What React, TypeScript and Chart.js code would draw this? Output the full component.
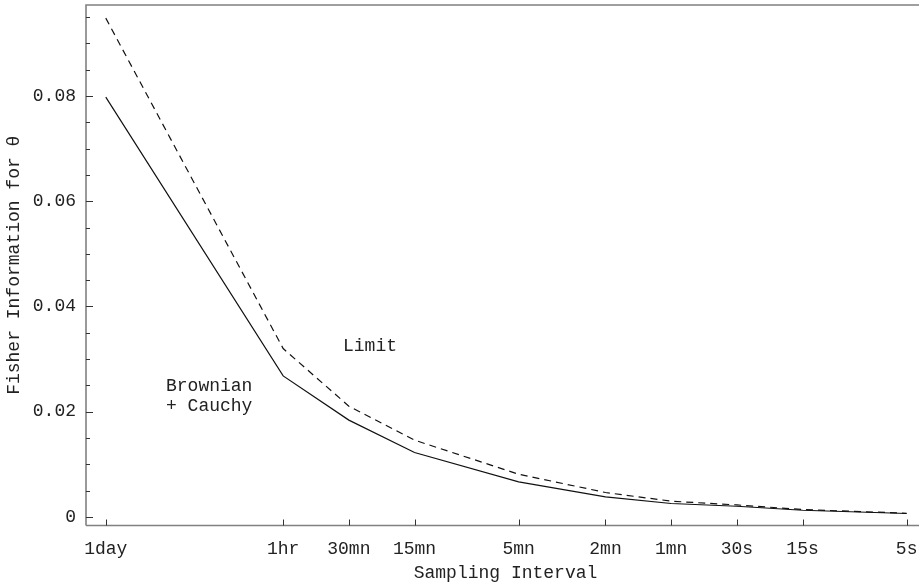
import React, { useEffect, useRef } from "react";
import { Chart, registerables } from "chart.js";

Chart.register(...registerables);

// Sampling interval in seconds (1 trading day = 6.5 hours)
const intervalSeconds = [23400, 3600, 1800, 900, 300, 120, 60, 30, 15, 5];
const intervalLabels = ["1day", "1hr", "30mn", "15mn", "5mn", "2mn", "1mn", "30s", "15s", "5s"];

const brownianCauchy = [0.0798, 0.0268, 0.0184, 0.01225, 0.00666, 0.0038, 0.00255, 0.00203, 0.00127, 0.00065];
const limitValues = [0.0948, 0.032, 0.02105, 0.01459, 0.00812, 0.00464, 0.00299, 0.00228, 0.00141, 0.0007];

const yMajorTicks = [0, 0.02, 0.04, 0.06, 0.08];
const yMajorLabels = ["0", "0.02", "0.04", "0.06", "0.08"];
const yMinorStep = 0.005;

const FONT = '18px "Liberation Mono", "Courier New", monospace';
const TEXT_COLOR = "#222";
const AXIS_COLOR = "#808080";

const axesPlugin = {
  id: "customAxes",
  afterDraw(chart: any) {
    const { ctx, chartArea } = chart;
    const xs = chart.scales.x;
    const ys = chart.scales.y;
    const { left, right, top, bottom } = chartArea;
    ctx.save();

    // frame lines
    ctx.strokeStyle = AXIS_COLOR;
    ctx.lineWidth = 1.6;
    ctx.beginPath();
    ctx.moveTo(left, bottom);
    ctx.lineTo(left, top);
    ctx.lineTo(right, top);
    ctx.moveTo(left, bottom);
    ctx.lineTo(right, bottom);
    ctx.stroke();

    // y ticks (inward)
    ctx.strokeStyle = "#333";
    ctx.lineWidth = 1;
    ctx.beginPath();
    for (let v = 0; v <= ys.max + 1e-9; v += yMinorStep) {
      const y = Math.round(ys.getPixelForValue(v)) + 0.5;
      const isMajor = Math.abs(v / 0.02 - Math.round(v / 0.02)) < 1e-6;
      ctx.moveTo(left, y);
      ctx.lineTo(left + (isMajor ? 7 : 4), y);
    }
    // x ticks (inward)
    intervalSeconds.forEach((s) => {
      const x = Math.round(xs.getPixelForValue(s)) + 0.5;
      ctx.moveTo(x, bottom);
      ctx.lineTo(x, bottom - 6);
    });
    ctx.stroke();

    // labels
    ctx.fillStyle = TEXT_COLOR;
    ctx.font = FONT;
    ctx.textAlign = "right";
    ctx.textBaseline = "middle";
    yMajorTicks.forEach((v, i) => {
      ctx.fillText(yMajorLabels[i], left - 10, ys.getPixelForValue(v));
    });
    ctx.textAlign = "center";
    intervalSeconds.forEach((s, i) => {
      ctx.fillText(intervalLabels[i], xs.getPixelForValue(s), 549);
    });

    // axis titles
    ctx.fillText("Sampling Interval", (left + right) / 2 + 3, 573);
    ctx.save();
    ctx.translate(14, (top + bottom) / 2);
    ctx.rotate(-Math.PI / 2);
    ctx.fillText("Fisher Information for \u03B8", 0, 0);
    ctx.restore();

    // annotations
    ctx.textAlign = "left";
    ctx.fillText("Limit", 343, 346);
    ctx.fillText("Brownian", 166, 386);
    ctx.fillText("+ Cauchy", 166, 406);

    ctx.restore();
  },
};

export default function App() {
  const ref = useRef<HTMLCanvasElement>(null);

  useEffect(() => {
    if (!ref.current) return;
    const chart = new Chart(ref.current, {
      type: "line",
      data: {
        datasets: [
          {
            label: "Brownian + Cauchy",
            data: intervalSeconds.map((s, i) => ({ x: s, y: brownianCauchy[i] })),
            borderColor: "#111",
            borderWidth: 1.2,
            pointRadius: 0,
            tension: 0,
            fill: false,
          },
          {
            label: "Limit",
            data: intervalSeconds.map((s, i) => ({ x: s, y: limitValues[i] })),
            borderColor: "#111",
            borderWidth: 1.2,
            borderDash: [7, 5],
            pointRadius: 0,
            tension: 0,
            fill: false,
          },
        ],
      },
      options: {
        animation: false,
        responsive: false,
        devicePixelRatio: 1,
        layout: { padding: { left: 86, top: 5, right: 0, bottom: 57.5 } },
        plugins: {
          legend: { display: false },
          tooltip: { enabled: false },
        },
        scales: {
          x: {
            type: "logarithmic",
            reverse: true,
            min: 4.39,
            max: 28830,
            display: false,
          },
          y: {
            type: "linear",
            min: -0.00163,
            max: 0.0973,
            display: false,
          },
        },
      },
      plugins: [axesPlugin],
    });
    return () => chart.destroy();
  }, []);

  return (
    <div style={{ position: "fixed", left: 0, top: 0, width: 919, height: 583, background: "#fff" }}>
      <canvas ref={ref} width={919} height={583} />
    </div>
  );
}
